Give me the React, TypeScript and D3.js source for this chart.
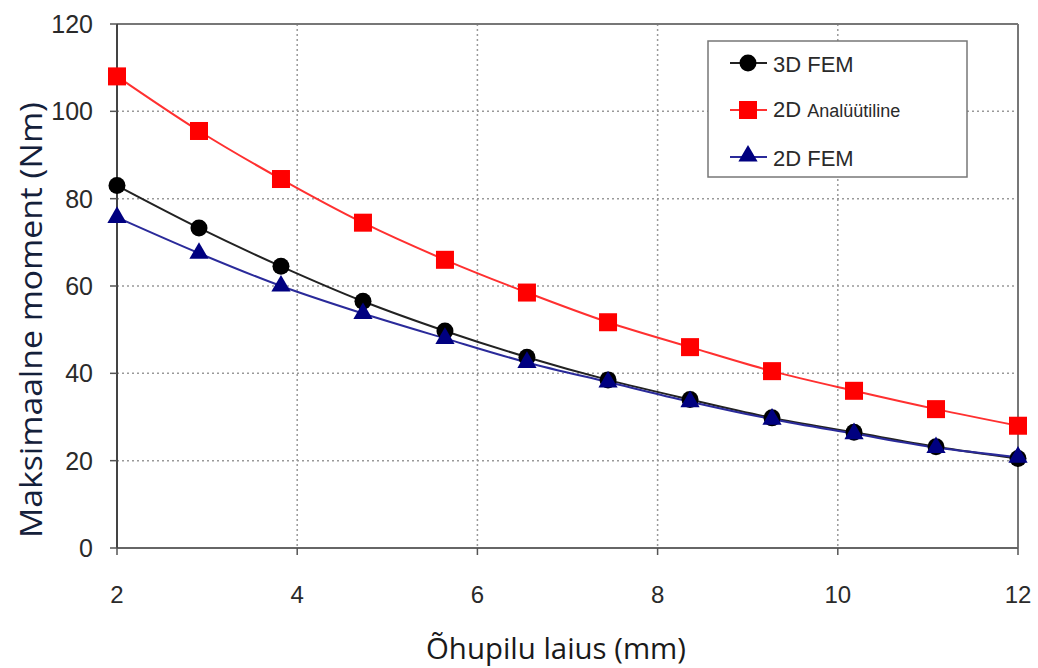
import React from "react";
import * as d3 from "d3";

const xValues = [2, 2.91, 3.82, 4.73, 5.64, 6.55, 7.45, 8.36, 9.27, 10.18, 11.09, 12];
const fem3d = [83, 73.3, 64.5, 56.5, 49.7, 43.7, 38.5, 34, 29.8, 26.5, 23.2, 20.5];
const analyt2d = [108, 95.5, 84.5, 74.5, 66, 58.5, 51.7, 46, 40.5, 36, 31.8, 28];
const fem2d = [75.7, 67.5, 60, 53.7, 48, 42.5, 38, 33.5, 29.5, 26.2, 23, 20.8];
const xTicks = [2, 4, 6, 8, 10, 12];
const yTicks = [0, 20, 40, 60, 80, 100, 120];

const W = 1038, H = 668;
const L = 117, R = 1018, T = 24, B = 548;

export default function App() {
  const x = d3.scaleLinear().domain([2, 12]).range([L, R]);
  const y = d3.scaleLinear().domain([0, 120]).range([B, T]);
  const line = d3.line<number>().x((_, i) => x(xValues[i])).y((d) => y(d)).curve(d3.curveCatmullRom.alpha(0.5));
  const tri = d3.symbol().type(d3.symbolTriangle).size(160)();
  const font = "Arial, 'Liberation Sans', sans-serif";

  return (
    <svg width={W} height={H} style={{ position: "absolute", left: 0, top: 0, background: "#fff" }}>
      <rect x={0} y={0} width={W} height={H} fill="#fff" />
      {/* grid */}
      {yTicks.filter((t) => t > 0 && t < 120).map((t) => (
        <line key={"gy" + t} x1={L} x2={R} y1={y(t)} y2={y(t)} stroke="#999" strokeWidth={1.5} strokeDasharray="2,3" />
      ))}
      {xTicks.filter((t) => t > 2 && t < 12).map((t) => (
        <line key={"gx" + t} x1={x(t)} x2={x(t)} y1={T} y2={B} stroke="#999" strokeWidth={1.5} strokeDasharray="2,3" />
      ))}
      {/* frame */}
      <line x1={L} x2={R} y1={T} y2={T} stroke="#777" strokeWidth={2} />
      <line x1={R} x2={R} y1={T} y2={B} stroke="#777" strokeWidth={2} />
      <line x1={L} x2={R} y1={B} y2={B} stroke="#666" strokeWidth={2} />
      <line x1={L} x2={L} y1={T} y2={B} stroke="#444" strokeWidth={2} />
      {/* ticks */}
      {yTicks.map((t) => (
        <g key={"yt" + t}>
          <line x1={L - 7} x2={L} y1={y(t)} y2={y(t)} stroke="#555" strokeWidth={1.5} />
          <text x={93} y={y(t)} dy="0.36em" textAnchor="end" fontFamily={font} fontSize={25} fill="#2a2a2a">{t}</text>
        </g>
      ))}
      {xTicks.map((t) => (
        <g key={"xt" + t}>
          <line x1={x(t)} x2={x(t)} y1={B} y2={B + 7} stroke="#555" strokeWidth={1.5} />
          <text x={x(t)} y={603} textAnchor="middle" fontFamily={font} fontSize={24} fill="#2a2a2a">{t}</text>
        </g>
      ))}
      {/* axis titles */}
      <text x={556} y={659} textAnchor="middle" fontFamily="'Open Sans', sans-serif" fontSize={30} fill="#1a1a1a" textLength={260} lengthAdjust="spacingAndGlyphs">Õhupilu laius (mm)</text>
      <text transform="translate(42,320) rotate(-90)" textAnchor="middle" fontFamily="'Open Sans', sans-serif" fontSize={31} fill="#14203a" textLength={436} lengthAdjust="spacingAndGlyphs">Maksimaalne moment (Nm)</text>
      {/* series */}
      <path d={line(analyt2d) || ""} fill="none" stroke="#ff3030" strokeWidth={2} />
      <path d={line(fem3d) || ""} fill="none" stroke="#222" strokeWidth={2} />
      <path d={line(fem2d) || ""} fill="none" stroke="#2a2a9a" strokeWidth={2} />
      {analyt2d.map((v, i) => (
        <rect key={"r" + i} x={x(xValues[i]) - 9} y={y(v) - 9} width={18} height={18} fill="#ff0000" />
      ))}
      {fem3d.map((v, i) => (
        <circle key={"c" + i} cx={x(xValues[i])} cy={y(v)} r={8.5} fill="#000" />
      ))}
      {fem2d.map((v, i) => (
        <path key={"t" + i} d={tri || ""} transform={`translate(${x(xValues[i])},${y(v)})`} fill="#000080" />
      ))}
      {/* legend */}
      <rect x={708} y={41} width={259} height={136} fill="#fff" stroke="#777" strokeWidth={1.5} />
      <line x1={730} x2={767} y1={63} y2={63} stroke="#222" strokeWidth={2} />
      <circle cx={748} cy={63} r={8.5} fill="#000" />
      <text x={773} y={64} dy="0.36em" fontFamily={font} fontSize={22} fill="#2a2a2a">3D FEM</text>
      <line x1={730} x2={767} y1={110} y2={110} stroke="#ff3030" strokeWidth={2} />
      <rect x={739} y={101} width={18} height={18} fill="#ff0000" />
      <text x={773} y={111} dy="0.36em" fontFamily={font} fill="#2a2a2a">
        <tspan fontSize={22}>2D </tspan>
        <tspan fontSize={18}>Analüütiline</tspan>
      </text>
      <line x1={730} x2={767} y1={157} y2={157} stroke="#2a2a9a" strokeWidth={2} />
      <path d={tri || ""} transform="translate(748,156)" fill="#000080" />
      <text x={773} y={158} dy="0.36em" fontFamily={font} fontSize={22} fill="#2a2a2a">2D FEM</text>
    </svg>
  );
}
